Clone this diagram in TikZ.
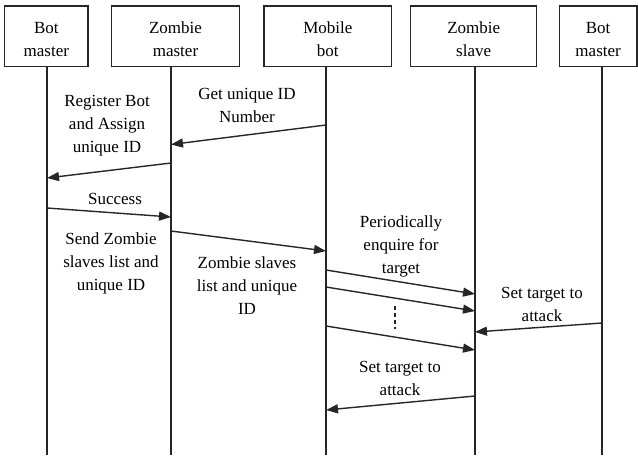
\documentclass[tikz,border=0pt]{standalone}
\usepackage{fontspec}
\setmainfont{Liberation Serif}
\usetikzlibrary{arrows.meta}
\definecolor{linegray}{gray}{0.15}
\begin{document}
\begin{tikzpicture}[x=1pt,y=-1pt,
  actor/.style={draw=linegray, line width=1.4pt, minimum height=60.7pt, inner sep=0pt},
  lbl/.style={align=center, font=\fontsize{17}{23}\selectfont, inner sep=0pt},
  life/.style={draw=linegray, line width=1.4pt},
  msg/.style={draw=linegray, line width=1.4pt, -{Triangle[length=12pt,width=9pt]}},
  gap/.style={draw=linegray, line width=1.1pt, dash pattern=on 4pt off 3pt},
]
\useasboundingbox (0,0) rectangle (638,459);

% participants
\node[actor, minimum width=83.3pt]  (b1) at (46.35,36.35) {};
\node[actor, minimum width=127.6pt] (b2) at (175.5,36.35) {};
\node[actor, minimum width=127.7pt] (b3) at (327.85,36.35) {};
\node[actor, minimum width=126pt]   (b4) at (473.7,36.35) {};
\node[actor, minimum width=77.7pt]  (b5) at (598.15,36.35) {};
\node[lbl] (n1) at ([yshift=-3pt]b1.center) {Bot\\master};
\node[lbl] (n2) at ([yshift=-3pt]b2.center) {Zombie\\master};
\node[lbl] (n3) at ([yshift=-3pt]b3.center) {Mobile\\bot};
\node[lbl] (n4) at ([yshift=-3pt]b4.center) {Zombie\\slave};
\node[lbl] (n5) at ([yshift=-3pt]b5.center) {Bot\\master};

% lifelines
\coordinate (l1t) at (47,66.7);    \coordinate (l1b) at (47,455);
\coordinate (l2t) at (171,66.7);   \coordinate (l2b) at (171,455);
\coordinate (l3t) at (326,66.7);   \coordinate (l3b) at (326,455);
\coordinate (l4t) at (475,66.7);   \coordinate (l4b) at (475,455);
\coordinate (l5t) at (602,66.7);   \coordinate (l5b) at (602,455);
\foreach \i in {1,...,5} \draw[life] (l\i t) -- (l\i b);

% message end points on the lifelines
\coordinate (m1s) at (326,125);  \coordinate (m1e) at (171,144.5);
\coordinate (m2s) at (171,163);  \coordinate (m2e) at (47,178);
\coordinate (m3s) at (47,208);   \coordinate (m3e) at (171,217);
\coordinate (m4s) at (171,231);  \coordinate (m4e) at (326,251);
\coordinate (m5s) at (326,270);  \coordinate (m5e) at (475,294);
\coordinate (m6s) at (326,287);  \coordinate (m6e) at (475,311);
\coordinate (m7s) at (326,326);  \coordinate (m7e) at (475,350);
\coordinate (m8s) at (602,323);  \coordinate (m8e) at (475,332);
\coordinate (m9s) at (475,396);  \coordinate (m9e) at (326,410);
\coordinate (g1) at (395,306);   \coordinate (g2) at (395,329);

\foreach \i in {1,...,9} \draw[msg] (m\i s) -- (m\i e);
\draw[gap] (g1) -- (g2);

% message labels
\node[lbl] (t1) at (247,105.5) {Get unique ID\\Number};
\node[lbl] (t2) at (107,126) {Register Bot\\and Assign\\unique ID};
\node[lbl] (t3) at (115,199) {Success};
\node[lbl] (t4) at (111,263) {Send Zombie\\slaves list and\\unique ID};
\node[lbl] (t5) at (247,286) {Zombie slaves\\list and unique\\ID};
\node[lbl] (t6) at (401,246) {Periodically\\enquire for\\target};
\node[lbl] (t7) at (542,304.5) {Set target to\\attack};
\node[lbl] (t8) at (400,378.5) {Set target to\\attack};
\end{tikzpicture}
\end{document}
